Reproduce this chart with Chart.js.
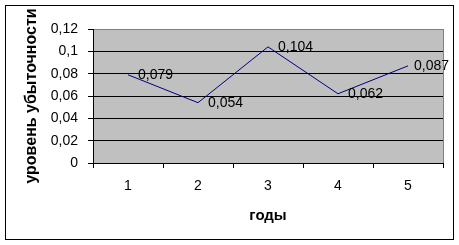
<!DOCTYPE html>
<html>
<head>
<meta charset="utf-8">
<script src="https://cdn.jsdelivr.net/npm/chart.js@4"></script>
<style>
    body { margin: 0; background: #fff; }
    canvas { display: block; }
</style>
</head>
<body>
<canvas id="loss-chart" width="459" height="245"></canvas>
<script>
// Chart data
const years = ['1', '2', '3', '4', '5'];
const lossRatio = [0.079, 0.054, 0.104, 0.062, 0.087];
const pointLabels = ['0,079', '0,054', '0,104', '0,062', '0,087'];
const yTickLabels = ['0', '0,02', '0,04', '0,06', '0,08', '0,1', '0,12'];

const FONT = '"Liberation Sans", Arial, sans-serif';

// Gray plot area, gray top/right edge and the outer frame
const plotBackground = {
    id: 'plotBackground',
    beforeDraw(chart) {
        const { ctx, chartArea: a } = chart;
        ctx.save();
        ctx.fillStyle = '#c0c0c0';
        ctx.fillRect(a.left, a.top, a.right - a.left + 1, a.bottom - a.top);
        ctx.strokeStyle = '#808080';
        ctx.lineWidth = 1;
        ctx.strokeRect(a.left + 0.5, a.top + 0.5, a.right - a.left, a.bottom - a.top);
        ctx.strokeStyle = '#000';
        ctx.strokeRect(5.5, 5.5, 448, 234);
        ctx.restore();
    }
};

// Value labels to the right of each point
const valueLabels = {
    id: 'valueLabels',
    afterDatasetsDraw(chart) {
        const { ctx } = chart;
        const meta = chart.getDatasetMeta(0);
        ctx.save();
        ctx.font = '14px ' + FONT;
        ctx.fillStyle = '#000';
        ctx.textAlign = 'left';
        ctx.textBaseline = 'middle';
        meta.data.forEach((point, i) => {
            const text = pointLabels[i];
            const w = ctx.measureText(text).width;
            let x = point.x + 10;
            // keep the last label inside the frame
            if (x + w > chart.width - 10) x = chart.width - 10 - w;
            ctx.fillText(text, x, point.y);
        });
        ctx.restore();
    }
};

new Chart(document.getElementById('loss-chart'), {
    type: 'line',
    data: {
        labels: years,
        datasets: [{
            data: lossRatio,
            borderColor: '#000080',
            borderWidth: 1,
            pointRadius: 0,
            tension: 0,
            fill: false
        }]
    },
    options: {
        responsive: false,
        animation: false,
        layout: { padding: { top: 29, right: 16, left: 0, bottom: 0 } },
        plugins: {
            legend: { display: false },
            tooltip: { enabled: false }
        },
        scales: {
            x: {
                offset: true,
                afterFit: axis => { axis.height = 82; },
                grid: {
                    offset: true,
                    drawOnChartArea: false,
                    tickLength: 5,
                    color: '#000'
                },
                border: { display: true, color: '#000' },
                ticks: {
                    color: '#000',
                    padding: 10,
                    font: { family: FONT, size: 14 }
                },
                title: {
                    display: true,
                    text: 'годы',
                    color: '#000',
                    padding: { top: 0, bottom: 20 },
                    font: { family: FONT, size: 15, weight: 'bold' }
                }
            },
            y: {
                min: 0,
                max: 0.12,
                afterFit: axis => { axis.width = 93; },
                grid: {
                    color: c => (c.index === yTickLabels.length - 1 ? '#808080' : '#000'),
                    tickColor: '#000',
                    tickLength: 5
                },
                border: { display: true, color: '#000' },
                ticks: {
                    stepSize: 0.02,
                    color: '#000',
                    padding: 10,
                    font: { family: FONT, size: 14 },
                    callback: (value, index) => yTickLabels[index]
                },
                title: {
                    display: true,
                    text: 'уровень убыточности',
                    color: '#000',
                    padding: { top: 22, bottom: 0 },
                    font: { family: FONT, size: 16, weight: 'bold' }
                }
            }
        }
    },
    plugins: [plotBackground, valueLabels]
});
</script>
</body>
</html>
